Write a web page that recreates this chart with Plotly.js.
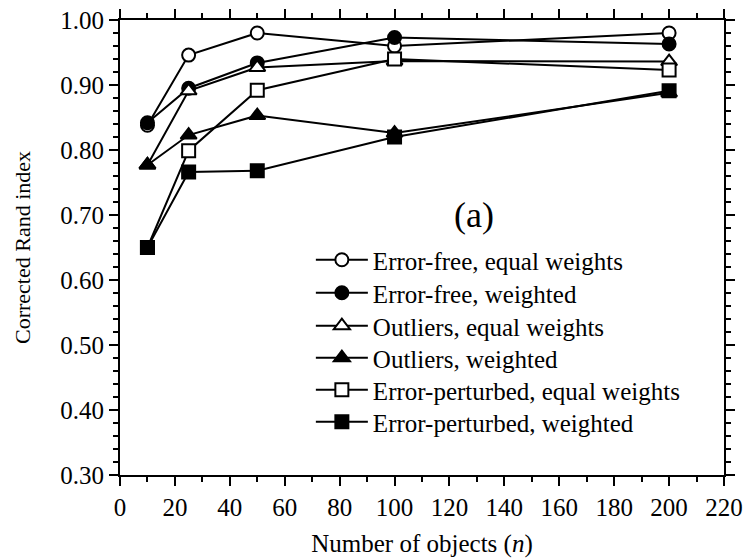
<!DOCTYPE html>
<html>
<head>
<meta charset="utf-8">
<script src="https://cdn.plot.ly/plotly-3.0.1.min.js"></script>
<style>html,body{margin:0;padding:0;background:#fff;}#chart{width:746px;height:559px;}</style>
</head>
<body>
<div id="chart"></div>
<script>
const nValues = [10, 25, 50, 100, 200];
const seriesNames = [
  "Error-free, equal weights",
  "Error-free, weighted",
  "Outliers, equal weights",
  "Outliers, weighted",
  "Error-perturbed, equal weights",
  "Error-perturbed, weighted"
];
const errorFreeEqual = [0.838, 0.946, 0.980, 0.960, 0.980];
const errorFreeWeighted = [0.842, 0.895, 0.934, 0.973, 0.963];
const outliersEqual = [0.777, 0.891, 0.927, 0.937, 0.936];
const outliersWeighted = [0.777, 0.823, 0.853, 0.826, 0.888];
const perturbedEqual = [0.650, 0.799, 0.892, 0.940, 0.923];
const perturbedWeighted = [0.650, 0.766, 0.768, 0.820, 0.891];
const symbols = ["circle-open", "circle", "triangle-up-open", "triangle-up", "square-open", "square"];
const seriesValues = [errorFreeEqual, errorFreeWeighted, outliersEqual, outliersWeighted, perturbedEqual, perturbedWeighted];

const font = "Liberation Serif, Times New Roman, serif";
const plotTop = 20, plotH = 455;
const legendRowPx = [260, 293, 326, 358, 390, 422];

const traces = seriesValues.map((vals, i) => {
  const open = symbols[i].indexOf("open") >= 0;
  return {
    x: nValues, y: vals, name: seriesNames[i], type: "scatter", mode: "lines+markers",
    legend: i === 0 ? "legend" : "legend" + (i + 1),
    line: {color: "#000", width: 2},
    marker: {
      symbol: open ? symbols[i].replace("-open", "") : symbols[i],
      size: symbols[i].indexOf("triangle") >= 0 ? 14 : 13,
      color: open ? "#fff" : "#000",
      line: {color: "#000", width: 2}
    }
  };
});

const axisCommon = {
  showgrid: false, zeroline: false, showline: true, linecolor: "#000", linewidth: 2,
  mirror: "ticks", ticks: "outside", ticklen: 9, tickwidth: 2, tickcolor: "#000",
  tickfont: {family: font, size: 25, color: "#000"}
};
const layout = {
  width: 746, height: 559,
  margin: {l: 120, r: 22, t: 20, b: 84},
  paper_bgcolor: "#fff", plot_bgcolor: "#fff",
  font: {family: font, color: "#000"},
  xaxis: Object.assign({}, axisCommon, {
    range: [0, 220], dtick: 20, tick0: 0,
    minor: {dtick: 10, ticks: "outside", ticklen: 5, tickwidth: 2, tickcolor: "#000"},
    title: {text: "Number of objects (<i>n</i>)", font: {family: font, size: 25, color: "#000"}, standoff: 14}
  }),
  yaxis: Object.assign({}, axisCommon, {
    range: [0.30, 1.00], dtick: 0.1, tick0: 0.3, tickformat: ".2f",
    minor: {dtick: 0.02, ticks: "outside", ticklen: 5, tickwidth: 2, tickcolor: "#000"},
    title: {text: "Corrected Rand index", font: {family: font, size: 22, color: "#000"}, standoff: 24}
  }),
  showlegend: true,
  annotations: [{
    xref: "paper", yref: "paper", x: 0.586, y: 0.572, text: "(a)", showarrow: false,
    font: {family: font, size: 36, color: "#000"}
  }]
};
legendRowPx.forEach((py, i) => {
  layout[i === 0 ? "legend" : "legend" + (i + 1)] = {
    x: 0.316, y: 1 - (py - plotTop) / plotH, xanchor: "left", yanchor: "middle",
    bgcolor: "rgba(0,0,0,0)", borderwidth: 0, itemwidth: 52,
    font: {family: font, size: 25, color: "#000"}
  };
});
Plotly.newPlot("chart", traces, layout, {displayModeBar: false, staticPlot: true});
</script>
</body>
</html>
